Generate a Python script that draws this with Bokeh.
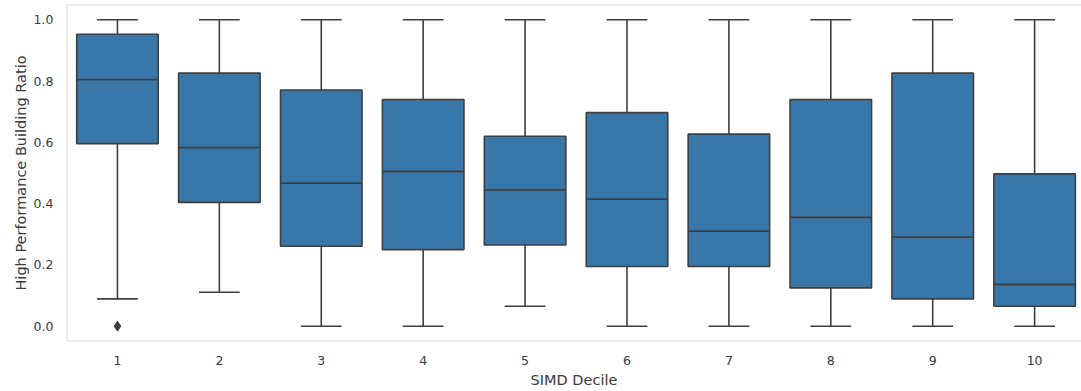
import numpy as np
from bokeh.plotting import figure
from bokeh.models import Range1d, FixedTicker, Span
from bokeh.embed import file_html
from bokeh.resources import INLINE

# ---- data ----
deciles = [1, 2, 3, 4, 5, 6, 7, 8, 9, 10]
q1 = [0.596, 0.404, 0.261, 0.250, 0.265, 0.195, 0.195, 0.125, 0.089, 0.065]
median = [0.805, 0.583, 0.467, 0.505, 0.445, 0.415, 0.310, 0.355, 0.291, 0.136]
q3 = [0.953, 0.826, 0.771, 0.740, 0.620, 0.697, 0.627, 0.740, 0.826, 0.497]
whisker_low = [0.089, 0.111, 0.0, 0.0, 0.065, 0.0, 0.0, 0.0, 0.0, 0.0]
whisker_high = [1.0, 1.0, 1.0, 1.0, 1.0, 1.0, 1.0, 1.0, 1.0, 1.0]
outlier_decile = [1]
outlier_value = [0.0]
y_ticks = [0.0, 0.2, 0.4, 0.6, 0.8, 1.0]
tick_labels = {d: str(d) for d in deciles}

BOX_COLOR = "#3877a7"
LINE_COLOR = "#3f3f3f"
FRAME_COLOR = "#d9d9d9"
FONT = "DejaVu Sans"

x = np.array(deciles, dtype=float)
box_w = 0.8
cap_w = 0.4

p = figure(width=1081, height=391, output_backend="svg", toolbar_location=None,
           x_range=Range1d(0.5, 10.46), y_range=Range1d(-0.05, 1.05),
           min_border_left=66, min_border_right=0, min_border_top=4, min_border_bottom=50)

p.background_fill_color = "white"
p.border_fill_color = "white"
p.outline_line_color = None
p.xgrid.visible = False
p.ygrid.visible = False

# frame (left, top, bottom; the right side lies outside the picture)
p.add_layout(Span(location=p.x_range.start, dimension="height", line_color=FRAME_COLOR, line_width=2))
p.add_layout(Span(location=p.y_range.start, dimension="width", line_color=FRAME_COLOR, line_width=2))
p.add_layout(Span(location=p.y_range.end, dimension="width", line_color=FRAME_COLOR, line_width=2))

# whiskers
p.segment(x0=x, y0=q3, x1=x, y1=whisker_high, line_color=LINE_COLOR, line_width=1.6)
p.segment(x0=x, y0=q1, x1=x, y1=whisker_low, line_color=LINE_COLOR, line_width=1.6)
# caps
p.segment(x0=x - cap_w / 2, y0=whisker_high, x1=x + cap_w / 2, y1=whisker_high,
          line_color=LINE_COLOR, line_width=1.6)
p.segment(x0=x - cap_w / 2, y0=whisker_low, x1=x + cap_w / 2, y1=whisker_low,
          line_color=LINE_COLOR, line_width=1.6)
# boxes
p.vbar(x=x, width=box_w, bottom=q1, top=q3, fill_color=BOX_COLOR,
       line_color=LINE_COLOR, line_width=1.6)
# medians
p.segment(x0=x - box_w / 2, y0=median, x1=x + box_w / 2, y1=median,
          line_color=LINE_COLOR, line_width=1.8)
# outliers
p.scatter(x=outlier_decile, y=outlier_value, marker="diamond", size=10,
          fill_color=LINE_COLOR, line_color=LINE_COLOR)

# axes
p.xaxis.ticker = FixedTicker(ticks=deciles)
p.xaxis.major_label_overrides = tick_labels
p.yaxis.ticker = FixedTicker(ticks=y_ticks)
p.yaxis.major_label_overrides = {t: f"{t:.1f}" for t in y_ticks}
for ax in (p.xaxis, p.yaxis):
    ax.axis_line_color = None
    ax.major_tick_line_color = None
    ax.minor_tick_line_color = None
    ax.major_tick_out = 0
    ax.major_tick_in = 0
    ax.major_label_text_font = FONT
    ax.major_label_text_font_size = "12.5px"
    ax.major_label_text_color = "#3a3a3a"
    ax.axis_label_text_font = FONT
    ax.axis_label_text_font_size = "14.5px"
    ax.axis_label_text_color = "#3a3a3a"
    ax.axis_label_text_font_style = "normal"

p.xaxis.axis_label = "SIMD Decile"
p.yaxis.axis_label = "High Performance Building Ratio"
p.xaxis.major_label_standoff = 14
p.xaxis.axis_label_standoff = 4
p.yaxis.major_label_standoff = 13
p.yaxis.axis_label_standoff = 2

open("out.html", "w").write(file_html(p, INLINE))
